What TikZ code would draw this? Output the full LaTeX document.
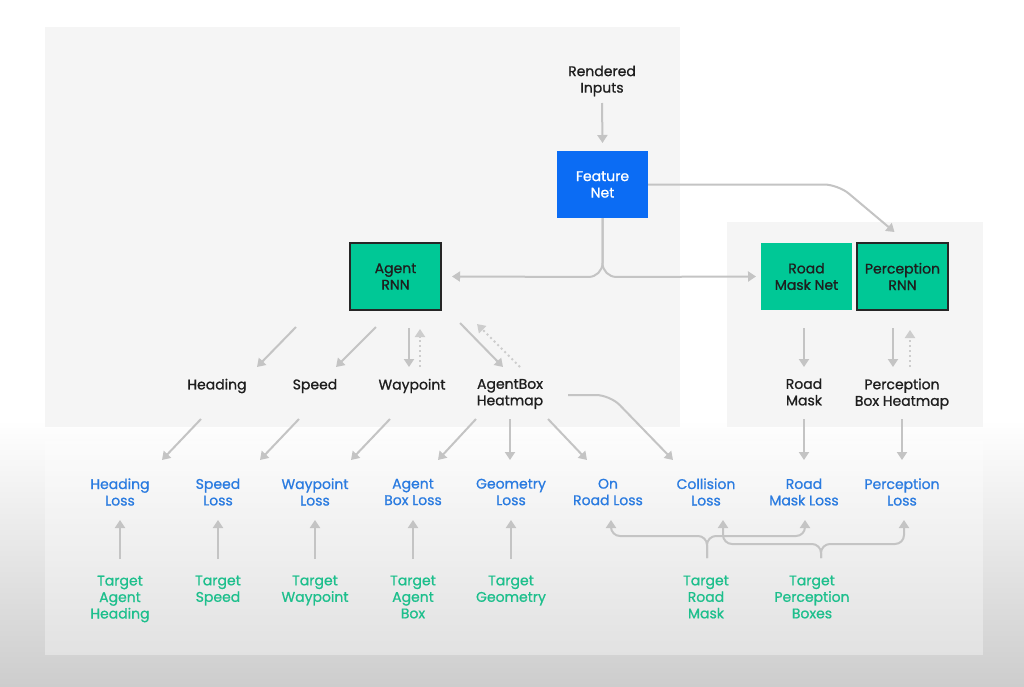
\documentclass[tikz,border=0pt]{standalone}
\usepackage{fontspec}
\setmainfont{Poppins}[BoldFont={Poppins}, BoldFeatures={FakeBold=0.9}]
\usetikzlibrary{arrows.meta,calc}
\definecolor{fnblue}{HTML}{0B6CF4}
\definecolor{boxgreen}{HTML}{00C896}
\definecolor{lossblue}{HTML}{2A7BE0}
\definecolor{tgtgreen}{HTML}{1DBF8C}
\definecolor{arrgray}{HTML}{C4C4C4}
\definecolor{panelgray}{HTML}{F5F5F5}
\definecolor{labeltxt}{HTML}{1E1E1E}
\definecolor{bggray}{HTML}{CDCDCD}
\begin{document}
\begin{tikzpicture}[x=1pt,y=-1pt,
  every node/.style={inner sep=0pt, outer sep=0pt, align=center, font=\fontsize{14}{16.5}\selectfont\bfseries},
  netbox/.style={minimum width=91pt, minimum height=67pt, fill=boxgreen, text=labeltxt},
  rnnbox/.style={netbox, draw=black!85, line width=1.5pt},
  featbox/.style={minimum width=91pt, minimum height=67pt, fill=fnblue, text=white},
  lbl/.style={text=labeltxt},
  losslbl/.style={text=lossblue},
  tgtlbl/.style={text=tgtgreen},
  arr/.style={draw=arrgray, line width=2pt, -{Triangle[length=8pt,width=10pt]}},
  dotarr/.style={draw=arrgray!85, line width=2pt, dash pattern=on 2pt off 3pt, -{Triangle[length=8pt,width=10pt]}},
  curvearr/.style={arr, rounded corners=14pt},
  bracearr/.style={arr, rounded corners=9pt}
]
% background
\useasboundingbox (0,0) rectangle (1024,686);
\fill[white] (0,0) rectangle (1024,686);
\shade[top color=white, bottom color=bggray] (0,420) rectangle (1024,686);
\fill[panelgray] (45,27) rectangle (680,427);
\fill[panelgray] (727,222) rectangle (983,427);
\fill[white, fill opacity=0.35] (45,441) rectangle (983,655);

% nodes
\node[lbl] (rendered) at (602,81) {Rendered\\Inputs};
\node[featbox] (feat) at (602.5,184.5) {Feature\\Net};
\node[rnnbox] (agent) at (395.5,276.5) {Agent\\RNN};
\node[netbox] (roadnet) at (806.5,276.5) {Road\\Mask Net};
\node[rnnbox] (percnet) at (902.5,276.5) {Perception\\RNN};

\node[lbl] (heading) at (217,386) {Heading};
\node[lbl] (speed) at (315,386) {Speed};
\node[lbl] (waypoint) at (412,386) {Waypoint};
\node[lbl] (agentbox) at (510,394) {AgentBox\\Heatmap};
\node[lbl] (roadmask) at (804,392) {Road\\Mask};
\node[lbl] (percbox) at (902,394) {Perception\\Box Heatmap};

\node[losslbl] (hl) at (120,492) {Heading\\Loss};
\node[losslbl] (sl) at (218,492) {Speed\\Loss};
\node[losslbl] (wl) at (315,492) {Waypoint\\Loss};
\node[losslbl] (al) at (413,492) {Agent\\Box Loss};
\node[losslbl] (gl) at (511,492) {Geometry\\Loss};
\node[losslbl] (orl) at (608,492) {On\\Road Loss};
\node[losslbl] (cl) at (706,492) {Collision\\Loss};
\node[losslbl] (rml) at (804,492) {Road\\Mask Loss};
\node[losslbl] (pl) at (902,492) {Perception\\Loss};

\node[tgtlbl] (tah) at (120,599) {Target\\Agent\\Heading};
\node[tgtlbl] (ts) at (218,590.5) {Target\\Speed};
\node[tgtlbl] (tw) at (315,590.5) {Target\\Waypoint};
\node[tgtlbl] (tab) at (413,597) {Target\\Agent\\Box};
\node[tgtlbl] (tg) at (511,590.5) {Target\\Geometry};
\node[tgtlbl] (trm) at (706,597) {Target\\Road\\Mask};
\node[tgtlbl] (tpb) at (812,597) {Target\\Perception\\Boxes};

% top connectors
\draw[arr] ($(rendered)+(0,22)$) -- ($(feat.north)+(0,-8)$);
\draw[curvearr] (feat.south) -- ($(feat.south)+(0,59)$) -- ($(agent.east)+(11,0)$);
\draw[curvearr] (feat.south) -- ($(feat.south)+(0,59)$) -- ($(roadnet.west)+(-5,0)$);
\draw[curvearr] (feat.east) -- ($(feat.east)+(190,0)$) -- ($(percnet.north)+(-8,-11)$);

% agent outputs
\draw[arr] ($(agent)+(-99.5,50.5)$) -- ($(heading)+(40,-19)$);
\draw[arr] ($(agent)+(-19.5,50.5)$) -- ($(speed)+(21,-19)$);
\draw[arr] ($(agent)+(13.5,51.5)$) -- ($(waypoint)+(-3,-19)$);
\draw[dotarr] ($(waypoint)+(8,-19)$) -- ($(agent)+(24.5,52.5)$);
\draw[arr] ($(agent)+(64.5,46.5)$) -- ($(agentbox)+(-7,-27)$);
\draw[dotarr] ($(agentbox)+(10,-27)$) -- ($(agent)+(81.5,47.5)$);

\draw[arr] ($(roadnet)+(-2.5,51.5)$) -- ($(roadmask)+(0,-25)$);
\draw[arr] ($(percnet)+(-9.5,51.5)$) -- ($(percbox)+(-9,-27)$);
\draw[dotarr] ($(percbox)+(8,-27)$) -- ($(percnet)+(7.5,53.5)$);

% outputs to losses
\draw[arr] ($(heading)+(-16,33)$) -- ($(hl)+(42,-32)$);
\draw[arr] ($(speed)+(-16,33)$) -- ($(sl)+(42,-32)$);
\draw[arr] ($(waypoint)+(-22,33)$) -- ($(wl)+(36,-32)$);
\draw[arr] ($(agentbox)+(-34,25)$) -- ($(al)+(25,-32)$);
\draw[arr] ($(agentbox)+(0,25)$) -- ($(gl)+(-1,-32)$);
\draw[arr] ($(agentbox)+(38,25)$) -- ($(orl)+(-21,-32)$);
\draw[curvearr] ($(agentbox)+(58,1)$) -- ($(agentbox)+(100,1)$) -- ($(cl)+(-33,-32)$);
\draw[arr] ($(roadmask)+(0,27)$) -- ($(rml)+(0,-32)$);
\draw[arr] ($(percbox)+(0,25)$) -- ($(pl)+(0,-32)$);

% targets to losses
\draw[arr] ($(tah)+(0,-40)$) -- ($(hl)+(0,28)$);
\draw[arr] ($(ts)+(0,-31.5)$) -- ($(sl)+(0,28)$);
\draw[arr] ($(tw)+(0,-31.5)$) -- ($(wl)+(0,28)$);
\draw[arr] ($(tab)+(0,-38)$) -- ($(al)+(0,28)$);
\draw[arr] ($(tg)+(0,-31.5)$) -- ($(gl)+(0,28)$);

% braces
\draw[bracearr] ($(trm)+(1,-39)$) -- ($(trm)+(1,-61)$) -- ($(orl)+(3,44)$) -- ($(orl)+(3,28)$);
\draw[bracearr] ($(trm)+(1,-39)$) -- ($(trm)+(1,-61)$) -- ($(rml)+(1,44)$) -- ($(rml)+(1,28)$);
\draw[bracearr] ($(tpb)+(9,-39)$) -- ($(tpb)+(9,-53)$) -- ($(cl)+(17,52)$) -- ($(cl)+(17,28)$);
\draw[bracearr] ($(tpb)+(9,-39)$) -- ($(tpb)+(9,-53)$) -- ($(pl)+(2,52)$) -- ($(pl)+(2,28)$);
\end{tikzpicture}
\end{document}
